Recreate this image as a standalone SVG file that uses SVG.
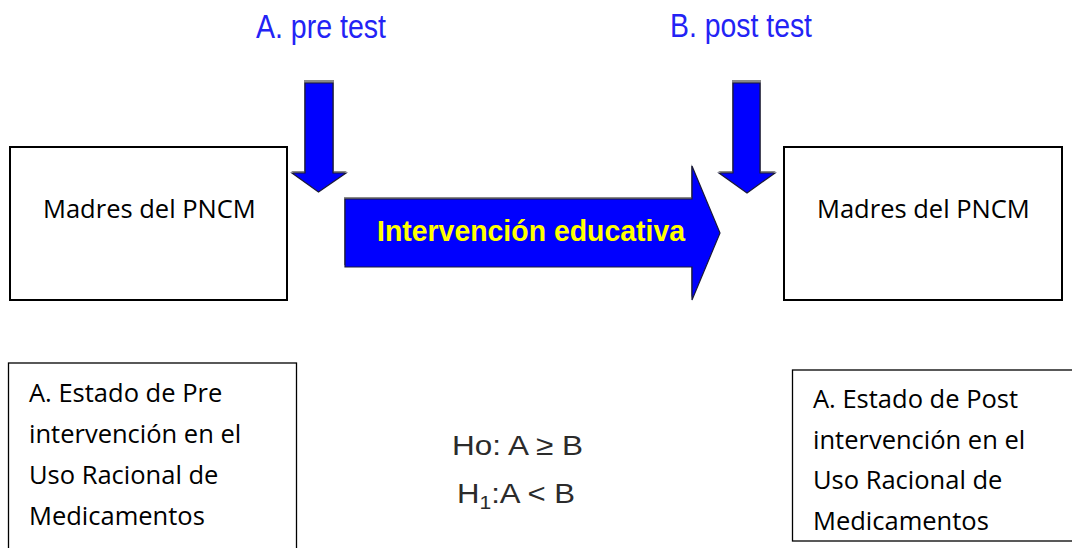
<svg xmlns="http://www.w3.org/2000/svg" width="1072" height="548" viewBox="0 0 1072 548">
  <style>
    .box { fill: #ffffff; stroke: #000000; stroke-width: 2; }
    .box2 { fill: #ffffff; stroke: #000000; stroke-width: 1.3; }
    .txt { font-family: "Open Sans", "Noto Sans", sans-serif; font-size: 25.5px; fill: #000000; }
    .lbl { font-family: "Liberation Sans", Arial, sans-serif; font-size: 33px; fill: #2323f5; }
    .arrow { fill: #0000ff; stroke: #1a1a3a; stroke-width: 1.2; stroke-linejoin: miter; }
    .shadow { fill: #8a8a8a; }
    .hyp { font-family: "Liberation Sans", Arial, sans-serif; font-size: 28px; fill: #2b2b2b; }
  </style>
  <rect width="1072" height="548" fill="#ffffff"/>

  <g id="label-a">
    <text class="lbl" x="256" y="38" textLength="130" lengthAdjust="spacingAndGlyphs">A. pre test</text>
  </g>
  <g id="label-b">
    <text class="lbl" x="670" y="37" textLength="142" lengthAdjust="spacingAndGlyphs">B. post test</text>
  </g>

  <g id="box-pre">
    <rect class="box" x="10" y="147" width="277" height="153"/>
    <text class="txt" x="43" y="218">Madres del PNCM</text>
  </g>
  <g id="box-post">
    <rect class="box" x="784" y="147" width="278" height="153"/>
    <text class="txt" x="817" y="218">Madres del PNCM</text>
  </g>

  <g id="connectors">
    <g id="arrow-pre">
      <polygon class="shadow" points="304,80 334,80 334,171 347,171 319,191 291,171 304,171"/>
      <polygon class="arrow" points="305,83 333,83 333,173 346,173 318.5,192 292,173 305,173"/>
    </g>
    <g id="arrow-post">
      <polygon class="shadow" points="732,80 761,80 761,171 776,171 747,191 718,171 732,171"/>
      <polygon class="arrow" points="733,83 760,83 760,173 775,173 747,193 719,173 733,173"/>
    </g>
    <g id="arrow-intervencion">
      <polygon class="shadow" points="344,197 691,197 691,164 719,231 691,298 691,265 344,265"/>
      <polygon class="arrow" points="345,199 692,199 692,166 720,233 692,300 692,267 345,267"/>
      <text x="377" y="241" textLength="308" lengthAdjust="spacingAndGlyphs" font-family="'Liberation Sans', Arial, sans-serif" font-size="30" font-weight="bold" fill="#ffff00">Intervención educativa</text>
    </g>
  </g>

  <g id="box-pre-state">
    <rect class="box2" x="8.5" y="363" width="288" height="200"/>
    <text class="txt" x="29" y="402">A. Estado de Pre</text>
    <text class="txt" x="29" y="443">intervención en el</text>
    <text class="txt" x="29" y="484">Uso Racional de</text>
    <text class="txt" x="29" y="525">Medicamentos</text>
  </g>

  <g id="box-post-state">
    <rect class="box2" x="792.5" y="370" width="290" height="171"/>
    <text class="txt" x="813" y="408">A. Estado de Post</text>
    <text class="txt" x="813" y="449">intervención en el</text>
    <text class="txt" x="813" y="489">Uso Racional de</text>
    <text class="txt" x="813" y="530">Medicamentos</text>
  </g>

  <g id="hypotheses">
    <text class="hyp" x="452" y="455" textLength="131" lengthAdjust="spacingAndGlyphs">Ho: A ≥ B</text>
    <text class="hyp" x="457" y="503" textLength="118" lengthAdjust="spacingAndGlyphs">H<tspan font-size="19" dy="6">1</tspan><tspan dy="-6">:A &lt; B</tspan></text>
  </g>
</svg>
